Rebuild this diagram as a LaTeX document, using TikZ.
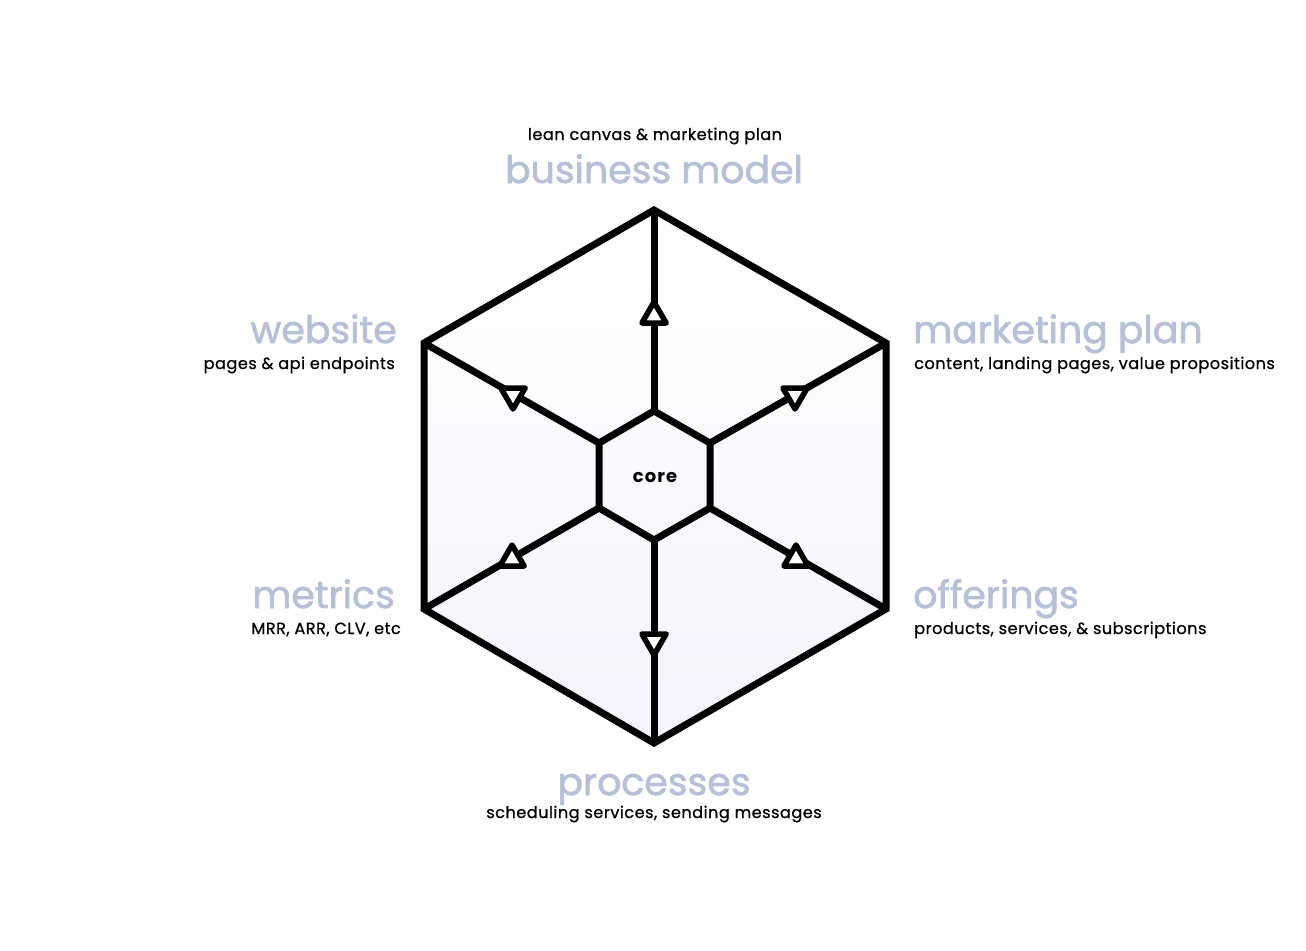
\documentclass[tikz,border=0pt]{standalone}
\usepackage{fontspec}
\setmainfont{Poppins}
\newfontfamily\ttlfont[FakeBold=1.8]{Poppins}
\newfontfamily\subfont[LetterSpace=3, FakeBold=0.8]{Poppins}
\newfontfamily\corefont[LetterSpace=6]{Poppins}
\usetikzlibrary{shapes.geometric}
\definecolor{titlecol}{RGB}{182,193,215}
\definecolor{hexbot}{RGB}{243,244,252}
\tikzset{
  edge/.style={line width=7bp, draw=black, line join=miter},
  tri/.style={regular polygon, regular polygon sides=3, draw=black, fill=white,
    line width=5.5bp, line join=round, inner sep=0pt, minimum size=28bp},
  tridown/.style={tri, shape border rotate=180},
  ttl/.style={text=titlecol, font=\ttlfont\fontsize{38}{40}\selectfont, inner sep=0pt},
  sub/.style={text=black, font=\subfont\fontsize{16.2}{18}\selectfont, inner sep=0pt},
}
\begin{document}
\begin{tikzpicture}[x=1bp,y=-1bp]
\useasboundingbox (0,0) rectangle (1306,950);
% outer vertices
\coordinate (T) at (654,210);
\coordinate (UR) at (886,343);
\coordinate (LR) at (886,609);
\coordinate (B) at (654,743);
\coordinate (LL) at (424,609);
\coordinate (UL) at (424,343);
% inner vertices
\coordinate (iT) at (654,411);
\coordinate (iUR) at (710,443);
\coordinate (iLR) at (710,508);
\coordinate (iB) at (654,540);
\coordinate (iLL) at (599,508);
\coordinate (iUL) at (599,443);
% fill
\shade[top color=white, bottom color=hexbot] (T) -- (UR) -- (LR) -- (B) -- (LL) -- (UL) -- cycle;
% spokes
\draw[edge] (iT) -- (T);
\draw[edge] (iUR) -- (UR);
\draw[edge] (iLR) -- (LR);
\draw[edge] (iB) -- (B);
\draw[edge] (iLL) -- (LL);
\draw[edge] (iUL) -- (UL);
% hexagons
\draw[edge] (T) -- (UR) -- (LR) -- (B) -- (LL) -- (UL) -- cycle;
\draw[edge] (iT) -- (iUR) -- (iLR) -- (iB) -- (iLL) -- (iUL) -- cycle;
% markers
\node[tri] (mT) at (654,316) {};
\node[tridown] (mUR) at (795,395) {};
\node[tridown] (mUL) at (513,395) {};
\node[tri] (mLL) at (512,559) {};
\node[tri] (mLR) at (796,559) {};
\node[tridown] (mB) at (654,641) {};
% core
\node[font=\corefont\fontsize{18}{20}\selectfont\bfseries, anchor=base, inner sep=0pt] (core) at (655,482) {core};
% labels
\node[sub, anchor=base] (bmS) at (655,140) {lean canvas \& marketing plan};
\node[ttl, anchor=base] (bmT) at (654,183) {business model};
\node[ttl, anchor=base east] (wsT) at (397,343) {website};
\node[sub, anchor=base east] (wsS) at (395,369) {pages \& api endpoints};
\node[ttl, anchor=base west] (mpT) at (913,343) {marketing plan};
\node[sub, anchor=base west] (mpS) at (914,369) {content, landing pages, value propositions};
\node[ttl, anchor=base east] (meT) at (395,608) {metrics};
\node[sub, anchor=base east] (meS) at (401,634) {MRR, ARR, CLV, etc};
\node[ttl, anchor=base west] (ofT) at (913,608) {offerings};
\node[sub, anchor=base west] (ofS) at (914,634) {products, services, \& subscriptions};
\node[ttl, anchor=base] (prT) at (654,795) {processes};
\node[sub, anchor=base] (prS) at (654,818) {scheduling services, sending messages};
\end{tikzpicture}
\end{document}
